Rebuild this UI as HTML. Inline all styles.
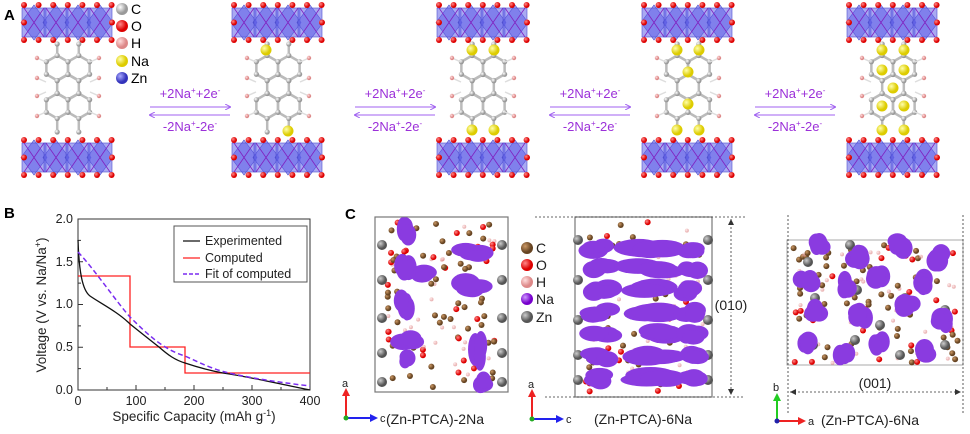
<!DOCTYPE html>
<html><head><meta charset="utf-8">
<style>
body{margin:0;background:#fff;width:970px;height:434px;overflow:hidden}
svg{display:block}
text{font-family:"Liberation Sans",sans-serif}
</style></head>
<body>
<svg id="s" width="970" height="434" viewBox="0 0 970 434" xmlns="http://www.w3.org/2000/svg">
<defs>
<radialGradient id="gC" cx="35%" cy="35%"><stop offset="0" stop-color="#fff"/><stop offset="1" stop-color="#999"/></radialGradient>
<radialGradient id="gO" cx="35%" cy="35%"><stop offset="0" stop-color="#f88"/><stop offset="1" stop-color="#d00"/></radialGradient>
<radialGradient id="gH" cx="35%" cy="35%"><stop offset="0" stop-color="#fdd"/><stop offset="1" stop-color="#d88"/></radialGradient>
<radialGradient id="gNa" cx="35%" cy="35%"><stop offset="0" stop-color="#ffa"/><stop offset="1" stop-color="#dc0"/></radialGradient>
<radialGradient id="gZn" cx="35%" cy="35%"><stop offset="0" stop-color="#aaf"/><stop offset="1" stop-color="#33b"/></radialGradient>
<radialGradient id="gCb" cx="35%" cy="35%"><stop offset="0" stop-color="#c96"/><stop offset="1" stop-color="#642"/></radialGradient>
<radialGradient id="gP" cx="35%" cy="35%"><stop offset="0" stop-color="#c9f"/><stop offset="1" stop-color="#70c"/></radialGradient>
<radialGradient id="gG" cx="35%" cy="35%"><stop offset="0" stop-color="#ccc"/><stop offset="1" stop-color="#555"/></radialGradient>
<marker id="ar" markerWidth="6" markerHeight="6" refX="5" refY="3" orient="auto"><path d="M0,0 L6,3 L0,6" fill="none" stroke="#a060f0" stroke-width="1"/></marker>
</defs>
<g id="A"></g>
<text x="4" y="20" font-size="15" font-weight="bold">A</text>
<circle cx="122" cy="9" r="6" fill="url(#gC)"/><text x="131" y="14" font-size="14">C</text>
<circle cx="122" cy="26" r="6" fill="url(#gO)"/><text x="131" y="31" font-size="14">O</text>
<circle cx="122" cy="43" r="6" fill="url(#gH)"/><text x="131" y="48" font-size="14">H</text>
<circle cx="122" cy="61" r="6" fill="url(#gNa)"/><text x="131" y="66" font-size="14">Na</text>
<circle cx="122" cy="78" r="6" fill="url(#gZn)"/><text x="131" y="83" font-size="14">Zn</text>
<g id="arrows" font-size="13" fill="#9b30d9" text-anchor="middle"></g>

<!-- B -->
<text x="4" y="218" font-size="15" font-weight="bold">B</text>
<g font-size="12.5" fill="#222">
<rect x="78" y="219" width="232" height="171" fill="none" stroke="#333" stroke-width="1"/>
<text x="73" y="223" text-anchor="end">2.0</text>
<text x="73" y="266" text-anchor="end">1.5</text>
<text x="73" y="308" text-anchor="end">1.0</text>
<text x="73" y="351" text-anchor="end">0.5</text>
<text x="73" y="394" text-anchor="end">0.0</text>
<text x="78" y="405" text-anchor="middle">0</text>
<text x="136" y="405" text-anchor="middle">100</text>
<text x="194" y="405" text-anchor="middle">200</text>
<text x="252" y="405" text-anchor="middle">300</text>
<text x="310" y="405" text-anchor="middle">400</text>
<text x="194" y="421" text-anchor="middle" font-size="13.5">Specific Capacity (mAh g<tspan dy="-5" font-size="9">-1</tspan><tspan dy="5">)</tspan></text>
<text transform="translate(46,305) rotate(-90)" text-anchor="middle" font-size="13.5">Voltage (V vs. Na/Na<tspan dy="-5" font-size="9">+</tspan><tspan dy="5">)</tspan></text>
</g>
<g id="ticks" stroke="#333"></g>
<path d="M78,276 L130,276 L130,347 L185,347 L185,373 L310,373" fill="none" stroke="#f22" stroke-width="1.3"/>
<path d="M78,240 C79,270 82,290 90,296 C100,303 118,312 130,324 C140,332 150,340 159,347 C168,355 175,360 185,363 C200,368 212,371 223,373 C250,377 280,384 310,390" fill="none" stroke="#111" stroke-width="1.3"/>
<path d="M78,252 C95,270 115,300 130,317 C150,337 165,350 185,356 C200,363 215,370 229,373 C255,379 285,383 310,386" fill="none" stroke="#7a2cf0" stroke-width="1.5" stroke-dasharray="5,3"/>
<rect x="174" y="226" width="133" height="56" fill="#fff" stroke="#555"/>
<line x1="183" y1="241" x2="200" y2="241" stroke="#111" stroke-width="1.3"/>
<line x1="183" y1="258" x2="200" y2="258" stroke="#f22" stroke-width="1.3"/>
<line x1="183" y1="274" x2="200" y2="274" stroke="#7a2cf0" stroke-width="1.5" stroke-dasharray="4,2"/>
<g font-size="12.5" fill="#222"><text x="205" y="245">Experimented</text><text x="205" y="262">Computed</text><text x="205" y="278">Fit of computed</text></g>

<!-- C -->
<text x="345" y="219" font-size="15" font-weight="bold">C</text>
<rect x="375" y="217" width="133" height="175" fill="none" stroke="#777" stroke-width="1.2"/>
<rect x="575" y="217" width="137" height="180" fill="none" stroke="#777" stroke-width="1.2"/>
<rect x="787" y="240" width="176" height="125" fill="none" stroke="#aaa" stroke-width="1"/>
<g stroke="#333" stroke-dasharray="2,2" stroke-width="0.8">
<line x1="535" y1="217" x2="745" y2="217"/><line x1="545" y1="397" x2="745" y2="397"/>
<line x1="788" y1="215" x2="788" y2="415"/><line x1="963" y1="215" x2="963" y2="415"/>
<line x1="731" y1="219" x2="731" y2="395"/><line x1="790" y1="392" x2="961" y2="392"/>
</g>
<g id="C"></g>
<g font-size="14" fill="#222">
<text x="731" y="310" text-anchor="middle" fill="#222" stroke="#fff" stroke-width="5" paint-order="stroke">(010)</text>
<text x="875" y="388" text-anchor="middle">(001)</text>
<text x="435" y="424" text-anchor="middle">(Zn-PTCA)-2Na</text>
<text x="643" y="424" text-anchor="middle">(Zn-PTCA)-6Na</text>
<text x="870" y="425" text-anchor="middle">(Zn-PTCA)-6Na</text>
</g>
<g font-size="14" fill="#222">
<circle cx="527" cy="248" r="6" fill="url(#gCb)"/><text x="536" y="253">C</text>
<circle cx="527" cy="265" r="6" fill="url(#gO)"/><text x="536" y="270">O</text>
<circle cx="527" cy="282" r="6" fill="url(#gH)"/><text x="536" y="287">H</text>
<circle cx="527" cy="299" r="6" fill="url(#gP)"/><text x="536" y="304">Na</text>
<circle cx="527" cy="317" r="6" fill="url(#gG)"/><text x="536" y="322">Zn</text>
</g>
<g stroke-width="2">
<line x1="346" y1="418" x2="346" y2="394" stroke="#e22"/><path d="M342,396 L346,388 L350,396z" fill="#e22"/>
<line x1="346" y1="418" x2="372" y2="418" stroke="#22e"/><path d="M370,414 L378,418 L370,422z" fill="#22e"/>
<circle cx="346" cy="418" r="2.5" fill="#2a2"/>
<line x1="532" y1="419" x2="532" y2="395" stroke="#e22"/><path d="M528,397 L532,389 L536,397z" fill="#e22"/>
<line x1="532" y1="419" x2="558" y2="419" stroke="#22e"/><path d="M556,415 L564,419 L556,423z" fill="#22e"/>
<circle cx="532" cy="419" r="2.5" fill="#2a2"/>
<line x1="777" y1="421" x2="777" y2="399" stroke="#2c2"/><path d="M773,401 L777,393 L781,401z" fill="#2c2"/>
<line x1="777" y1="421" x2="800" y2="421" stroke="#e22"/><path d="M798,417 L806,421 L798,425z" fill="#e22"/>
<circle cx="777" cy="421" r="2.5" fill="#22a"/>
</g>
<g font-size="11" fill="#222"><text x="342" y="387">a</text><text x="380" y="422">c</text><text x="528" y="388">a</text><text x="566" y="423">c</text><text x="773" y="391">b</text><text x="808" y="425">a</text></g>
<path d="M731,219 l-3,6 h6z M731,395 l-3,-6 h6z M790,392 l6,-3 v6z M961,392 l-6,-3 v6z" fill="#333"/>
</svg>
<script>
const NS="http://www.w3.org/2000/svg";
function el(p,t,a){const e=document.createElementNS(NS,t);for(const k in a)e.setAttribute(k,a[k]);p.appendChild(e);return e;}
const A=document.getElementById("A");
const centers=[68,278,483,688,893];
let seed=3;function rnd(){seed=(seed*9301+49297)%233280;return seed/233280;}
centers.forEach((c,i)=>{
  [[5,40],[140,175]].forEach(([y0,y1])=>{
    for(let k=0;k<4;k++){
      const x=c-46+k*22;
      el(A,"polygon",{points:`${x+12},${y0} ${x+25},${(y0+y1)/2} ${x+12},${y1} ${x-1},${(y0+y1)/2}`,fill:"#5b5be6","fill-opacity":0.55,stroke:"#4040c8","stroke-width":0.6});
      el(A,"rect",{x:x,y:y0+3,width:24,height:y1-y0-6,fill:"#6262e8","fill-opacity":0.55,stroke:"#5050d0","stroke-width":0.6});
      el(A,"line",{x1:x+2,y1:y0+3,x2:x+22,y2:y1-3,stroke:"#8020c0","stroke-width":0.8});
      el(A,"line",{x1:x+22,y1:y0+3,x2:x+2,y2:y1-3,stroke:"#8020c0","stroke-width":0.8});
    }
    for(let k=0;k<7;k++){const x=c-44+k*14.6;el(A,"circle",{cx:x,cy:y0,r:3,fill:"url(#gO)"});el(A,"circle",{cx:x,cy:y1,r:3,fill:"url(#gO)"});}
    [c-44,c+44].forEach(x=>el(A,"circle",{cx:x,cy:(y0+y1)/2,r:3,fill:"url(#gO)"}));
  });
  const R=12.5,dx=10.8;
  const hex=[[c-dx,68],[c+dx,68],[c,87],[c-dx,106],[c+dx,106]];
  const pts=[];
  hex.forEach(([x,y])=>{
    let p=[];for(let a=0;a<6;a++){const t=Math.PI/6+a*Math.PI/3;p.push([x+R*Math.cos(t),y+R*Math.sin(t)]);}
    el(A,"polygon",{points:p.map(q=>q.join(",")).join(" "),fill:"none",stroke:"#bbb","stroke-width":2.5});
    pts.push(...p);
  });
  [[c-dx,55.5,44],[c+dx,55.5,44],[c-dx,118.5,132],[c+dx,118.5,132]].forEach(([x,y,y2])=>{el(A,"line",{x1:x,y1:y,x2:x,y2:y2,stroke:"#bbb","stroke-width":2.5});el(A,"circle",{cx:x,cy:y2,r:2.6,fill:"url(#gC)"});});
  pts.forEach(p=>el(A,"circle",{cx:p[0],cy:p[1],r:2.6,fill:"url(#gC)"}));
  [[c-31,58],[c+31,58],[c-31,78],[c+31,78],[c-31,96],[c+31,96],[c-31,116],[c+31,116]].forEach(([x,y])=>{el(A,"line",{x1:x,y1:y,x2:x+(x<c?9:-9),y2:y+(y<87?4:-4),stroke:"#ddd","stroke-width":1.5});el(A,"circle",{cx:x,cy:y,r:2.2,fill:"url(#gH)"});});
  const na=[[],[[c-12,50],[c+10,131]],[[c-11,50],[c+11,50],[c-11,130],[c+11,130]],
    [[c-11,50],[c+11,50],[c,72],[c,104],[c-11,130],[c+11,130]],
    [[c-11,50],[c+11,50],[c-11,70],[c+11,70],[c,88],[c-11,106],[c+11,106],[c-11,130],[c+11,130]]][i];
  na.forEach(([x,y])=>el(A,"circle",{cx:x,cy:y,r:5.5,fill:"url(#gNa)"}));
});
const ar=document.getElementById("arrows");
[190,395,590,795].forEach(x=>{
  const t1=el(ar,"text",{x:x,y:98});t1.innerHTML='+2Na<tspan dy="-5" font-size="8">+</tspan><tspan dy="5">+2e</tspan><tspan dy="-5" font-size="8">-</tspan>';
  el(ar,"line",{x1:x-40,y1:107,x2:x+40,y2:107,stroke:"#a060f0","stroke-width":1,"marker-end":"url(#ar)"});
  el(ar,"line",{x1:x+40,y1:115,x2:x-40,y2:115,stroke:"#a060f0","stroke-width":1,"marker-end":"url(#ar)"});
  const t2=el(ar,"text",{x:x,y:131});t2.innerHTML='-2Na<tspan dy="-5" font-size="8">+</tspan><tspan dy="5">-2e</tspan><tspan dy="-5" font-size="8">-</tspan>';
});
const tk=document.getElementById("ticks");
for(let v=0;v<=400;v+=50){const x=78+v*0.58;el(tk,"line",{x1:x,y1:390,x2:x,y2:v%100?387:385});}
for(let v=0;v<=2;v+=0.25){const y=390-v*85.5;el(tk,"line",{x1:78,y1:y,x2:(v*4)%2?81:83,y2:y});}
const C=document.getElementById("C");
function atoms(x0,y0,w,h,n){for(let k=0;k<n;k++){const r=rnd();const x=x0+rnd()*w,y=y0+rnd()*h;
  const f=r<0.45?"url(#gCb)":r<0.7?"url(#gO)":"url(#gH)";el(C,"circle",{cx:x,cy:y,r:r<0.7?3:2,fill:f,"fill-opacity":r<0.7?1:0.6});}}
function blob(x,y,w,h){for(let k=0;k<4;k++){el(C,"ellipse",{cx:x+(rnd()-0.5)*w*0.5,cy:y+(rnd()-0.5)*h*0.4,rx:w/2*(0.6+rnd()*0.3),ry:h/2*(0.7+rnd()*0.3),fill:"#8a3be0"});}}
atoms(385,222,115,165,110);atoms(585,222,120,170,90);atoms(792,243,168,120,120);
[382,502].forEach(x=>{[245,280,318,353,382].forEach(y=>el(C,"circle",{cx:x,cy:y,r:5,fill:"url(#gG)"}));});
[578,708].forEach(x=>{[240,280,320,355,380].forEach(y=>el(C,"circle",{cx:x,cy:y,r:5,fill:"url(#gG)"}));});
[[850,245],[808,262],[898,248],[940,265],[857,290],[815,298],[905,298],[945,310],[855,340],[813,345],[900,355],[945,345],[880,275],[880,325]].forEach(([x,y])=>el(C,"circle",{cx:x,cy:y,r:5,fill:"url(#gG)"}));
[[405,230,18,24],[405,270,18,25],[420,275,30,16],[405,305,18,28],[408,340,28,20],[408,360,18,16],[472,253,35,16],[474,287,35,20],[477,350,18,35],[480,382,24,18]].forEach(b=>blob(...b));
[248,268,291,312,334,356,378].forEach((y,i)=>{blob(600,y,34,18);blob(652,y,58,18);blob(692,y,28,18);});
[[818,245],[857,255],[898,244],[940,257],[806,280],[845,285],[880,275],[925,283],[818,310],[860,315],[907,305],[945,320],[808,343],[845,352],[880,345],[925,350]].forEach(([x,y])=>blob(x,y,22,22));
</script>
</body></html>
